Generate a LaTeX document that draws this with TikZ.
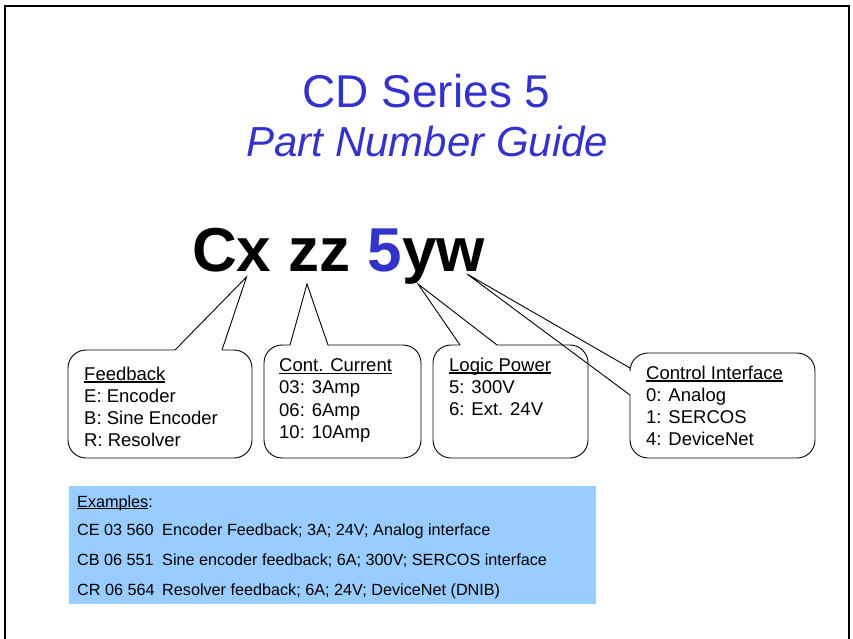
\documentclass[tikz,border=0pt]{standalone}
\usepackage{fontspec}
\setmainfont{Liberation Sans}
\definecolor{ttlblue}{HTML}{3333CC}
\definecolor{exfill}{HTML}{99CCFF}
\newsavebox\hdbox
\newcommand\hdul[1]{\sbox\hdbox{#1}\rlap{\rule[-2.6pt]{\wd\hdbox}{1.4pt}}\usebox\hdbox}
\newcommand\exul[1]{\sbox\hdbox{#1}\rlap{\rule[-2.4pt]{\wd\hdbox}{1.3pt}}\usebox\hdbox}
\begin{document}
\begin{tikzpicture}[x=1pt,y=-1pt,
  callout/.style={draw=black, line width=0.9pt, rounded corners=18pt},
  ptr/.style={draw=black, line width=0.9pt, line join=miter},
  boxtxt/.style={anchor=north west, inner sep=0pt, align=left, font=\fontsize{18.5}{22.2}\selectfont},
  extxt/.style={anchor=base west, inner sep=0pt, font=\fontsize{16.2}{19}\selectfont},
  pn/.style={anchor=base west, inner sep=0pt, font=\fontsize{16.2}{19}\selectfont}]
\useasboundingbox (0,0) rectangle (853,639);
% frame
\draw[line width=2pt] (5,639) -- (5,6) -- (849,6) -- (849,639);
% title
\node[anchor=base, inner sep=0pt, text=ttlblue, font=\fontsize{46}{50}\selectfont] (t1) at (426.5,108) {CD Series 5};
\node[anchor=base, inner sep=0pt, text=ttlblue, font=\fontsize{42}{50}\selectfont\itshape] (t2) at (427.5,157) {Part Number Guide};
% part number
\node[anchor=base, inner sep=0pt, font=\fontsize{62}{70}\selectfont\bfseries] (pnum) at (338.5,271) {Cx zz \textcolor{ttlblue}{5}yw};
% pointer tips
\coordinate (tipC) at (246.5,277);
\coordinate (tipZ) at (307,284);
\coordinate (tipY) at (418,284);
\coordinate (tipW) at (467,274);
% callout 1
\coordinate (a1) at (175,350);
\coordinate (b1) at (222,350);
\draw[callout] (b1) -- (252,350) -- (252,458) -- (68,458) -- (68,350) -- (a1);
\draw[ptr] (a1) -- (tipC) -- (b1);
% callout 2
\coordinate (a2) at (290,345);
\coordinate (b2) at (328,345);
\draw[callout] (b2) -- (421,345) -- (421,458) -- (264,458) -- (264,345) -- (a2);
\draw[ptr] (a2) -- (tipZ) -- (b2);
% callout 3
\coordinate (a3) at (460,345);
\coordinate (b3) at (497,345);
\draw[callout] (b3) -- (588,345) -- (588,458) -- (433,458) -- (433,345) -- (a3);
\draw[ptr] (a3) -- (tipY) -- (b3);
% callout 4
\coordinate (a4) at (630,368);
\coordinate (b4) at (630,395);
\draw[callout] (b4) -- (630,458) -- (815,458) -- (815,353) -- (630,353) -- (a4);
\draw[ptr] (a4) -- (tipW) -- (b4);
% callout texts
\node[boxtxt] (fb) at (84,366.5) {\hdul{Feedback}\\E: Encoder\\B: Sine Encoder\\R: Resolver};
\node[boxtxt] (cc) at (279,358.5) {\hdul{Cont. Current}\\03: 3Amp\\06: 6Amp\\10: 10Amp};
\node[boxtxt] (lp) at (449,357.5) {\hdul{Logic Power}\\5: 300V\\6: Ext. 24V};
\node[boxtxt] (ci) at (646,365.5) {\hdul{Control Interface}\\0: Analog\\1: SERCOS\\4: DeviceNet};
% examples
\fill[exfill] (69,486) rectangle (596,604);
\node[extxt] (exh) at (77,507) {\exul{Examples}:};
\node[pn] (p1) at (77,535) {CE 03 560};
\node[extxt] (d1) at (162,535) {Encoder Feedback; 3A; 24V; Analog interface};
\node[pn] (p2) at (77,565) {CB 06 551};
\node[extxt] (d2) at (162,565) {Sine encoder feedback; 6A; 300V; SERCOS interface};
\node[pn] (p3) at (77,595) {CR 06 564};
\node[extxt] (d3) at (162,595) {Resolver feedback; 6A; 24V; DeviceNet (DNIB)};
\end{tikzpicture}
\end{document}
